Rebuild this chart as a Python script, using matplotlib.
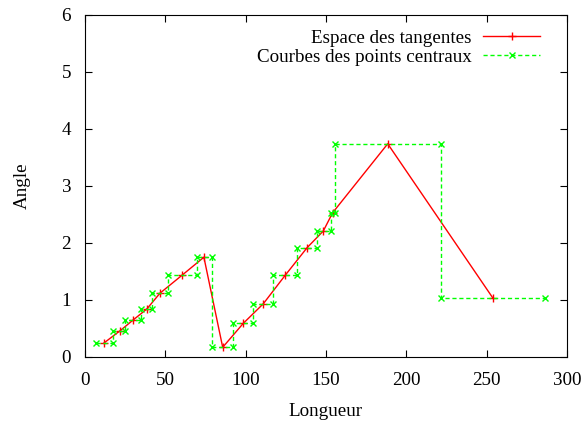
import matplotlib
matplotlib.use("Agg")
import matplotlib.pyplot as plt

plt.rcParams['font.family'] = ['Liberation Serif', 'DejaVu Serif']
plt.rcParams['font.size'] = 13.7

# Espace des tangentes
tan_x = [12.0, 21.8, 30.0, 38.4, 46.7, 60.2, 74.0, 85.7, 98.5, 111.0,
         124.5, 138.3, 148.3, 154.1, 188.4, 253.7]
tan_y = [0.25, 0.46, 0.65, 0.84, 1.12, 1.43, 1.75, 0.17, 0.59, 0.935,
         1.43, 1.92, 2.21, 2.53, 3.74, 1.04]

# Courbes des points centraux
cen_x = [6.8, 17.6, 17.6, 24.7, 24.7, 34.8, 34.8, 41.7, 41.7, 51.4,
         51.4, 69.5, 69.5, 79.0, 79.0, 92.3, 92.3, 104.5, 104.5, 116.8,
         116.8, 132.1, 132.1, 144.6, 144.6, 153.1, 153.1, 155.6, 155.6, 221.3,
         221.3, 286.2]
cen_y = [0.25, 0.25, 0.46, 0.46, 0.65, 0.65, 0.84, 0.84, 1.12, 1.12,
         1.43, 1.43, 1.75, 1.75, 0.17, 0.17, 0.59, 0.59, 0.935, 0.935,
         1.43, 1.43, 1.92, 1.92, 2.21, 2.21, 2.53, 2.53, 3.74, 3.74,
         1.04, 1.04]

fig = plt.figure(figsize=(5.87, 4.28), dpi=100)
ax = fig.add_axes([0.1448, 0.1659, 0.8212, 0.7991])

ax.plot(tan_x, tan_y, color='#ff0000', lw=1, marker='+', ms=6, mew=1,
        label='Espace des tangentes')
ax.plot(cen_x, cen_y, color='#00ff00', lw=1, ls=(0, (3, 2)), marker='x',
        ms=5, mew=1, label='Courbes des points centraux')

ax.set_xlim(0, 300)
ax.set_ylim(0, 6)
ax.set_xticks(range(0, 301, 50))
ax.set_yticks(range(0, 7))
ax.tick_params(direction='in', top=True, right=True, length=5)
ax.tick_params(axis='x', pad=11)
ax.tick_params(axis='y', pad=10)
ax.set_xlabel('Longueur', labelpad=10)
ax.set_ylabel('Angle', labelpad=22)

# gnuplot style key: text first, then the sample
leg = ax.legend(loc='upper right', bbox_to_anchor=(0.96, 0.98),
                markerfirst=False, frameon=False,
                handlelength=3.0, borderaxespad=0.0, labelspacing=0.1,
                handletextpad=0.6)

fig.savefig('out.png', dpi=100)
